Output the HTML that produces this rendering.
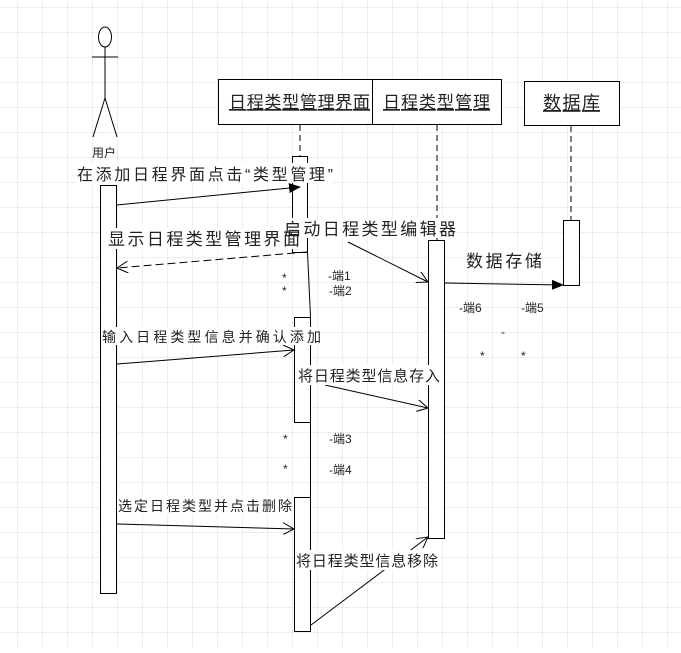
<!DOCTYPE html>
<html><head><meta charset="utf-8"><style>
body{margin:0;width:681px;height:648px;overflow:hidden;background:#fff}
text{font-family:"Liberation Sans","Noto Sans CJK SC",sans-serif;fill:#222}
</style></head><body>
<svg width="681" height="648" xmlns="http://www.w3.org/2000/svg">
<defs>
<pattern id="g" x="17" y="7" width="25" height="25" patternUnits="userSpaceOnUse">
<path d="M0 0H25M0 0V25" stroke="#dcdcdc" stroke-width="1" fill="none"/>
</pattern>
<marker id="fa" markerWidth="12" markerHeight="10" refX="11" refY="5" orient="auto" markerUnits="userSpaceOnUse"><path d="M0 0L12 5L0 10z" fill="#000"/></marker>
<marker id="oa" markerWidth="12" markerHeight="12" refX="11" refY="6" orient="auto" markerUnits="userSpaceOnUse"><path d="M0 0L11 6L0 12" fill="none" stroke="#000"/></marker>
</defs>
<rect width="681" height="648" fill="url(#g)"/>
<g stroke="#000" fill="none" stroke-width="1">
<ellipse cx="105" cy="37" rx="6.5" ry="10" fill="#fff"/>
<line x1="105" y1="47" x2="105" y2="98"/>
<line x1="92" y1="57" x2="118" y2="57"/>
<line x1="105" y1="98" x2="93" y2="137"/>
<line x1="105" y1="98" x2="117" y2="137"/>
<rect x="218.5" y="79.5" width="154" height="45" fill="#fff"/>
<rect x="372.5" y="79.5" width="129" height="45" fill="#fff"/>
<rect x="524.5" y="81.5" width="95" height="44" fill="#fff"/>
<line x1="300" y1="125" x2="300" y2="157" stroke-dasharray="6,4"/>
<line x1="437" y1="125" x2="437" y2="240" stroke-dasharray="6,4"/>
<line x1="571" y1="126" x2="571" y2="220" stroke-dasharray="6,4"/>
<rect x="100.5" y="185.5" width="16" height="408" fill="#fff"/>
<rect x="292.5" y="156.5" width="15" height="96" fill="#fff"/>
<line x1="307.5" y1="252" x2="310.5" y2="317"/>
<rect x="294.5" y="317.5" width="16" height="105" fill="#fff"/>
<line x1="310.5" y1="422" x2="310.5" y2="497"/>
<rect x="294.5" y="497.5" width="16" height="134" fill="#fff"/>
<rect x="428.5" y="240.5" width="16" height="298" fill="#fff"/>
<rect x="563.5" y="220.5" width="16" height="65" fill="#fff"/>
<line x1="117" y1="205" x2="300" y2="187" marker-end="url(#fa)"/>
<line x1="307" y1="252" x2="117" y2="268" stroke-dasharray="8,4" marker-end="url(#oa)"/>
<line x1="348" y1="242" x2="428" y2="282" marker-end="url(#oa)"/>
<line x1="445" y1="283" x2="563" y2="285" marker-end="url(#fa)"/>
<line x1="117" y1="364" x2="294" y2="350" marker-end="url(#oa)"/>
<line x1="325" y1="385" x2="428" y2="408" marker-end="url(#oa)"/>
<line x1="117" y1="524" x2="294" y2="529" marker-end="url(#oa)"/>
<line x1="311" y1="625" x2="428" y2="537" marker-end="url(#oa)"/>
</g>
<text x="229" y="108" font-size="17" textLength="141" lengthAdjust="spacing" text-decoration="underline">日程类型管理界面</text>
<text x="383" y="108" font-size="17" textLength="107" lengthAdjust="spacing" text-decoration="underline">日程类型管理</text>
<text x="543" y="109" font-size="18" textLength="57" lengthAdjust="spacing" text-decoration="underline">数据库</text>
<text x="92" y="157" font-size="12" textLength="24" lengthAdjust="spacing">用户</text>
<g fill="#fff">
<rect x="76" y="163" width="257" height="20"/>
<rect x="107" y="228" width="194" height="21"/>
<rect x="283" y="218" width="174" height="20"/>
<rect x="465" y="250" width="78" height="20"/>
<rect x="101" y="327" width="221" height="18"/>
<rect x="297" y="365" width="144" height="20"/>
<rect x="117" y="496" width="176" height="18"/>
<rect x="295" y="550" width="144" height="20"/>
</g>
<text x="77" y="180" font-size="16" textLength="256" lengthAdjust="spacing">在添加日程界面点击“类型管理”</text>
<text x="108" y="245" font-size="17" textLength="192" lengthAdjust="spacing">显示日程类型管理界面</text>
<text x="284" y="235" font-size="17" textLength="172" lengthAdjust="spacing">启动日程类型编辑器</text>
<text x="466" y="267" font-size="17" textLength="76" lengthAdjust="spacing">数据存储</text>
<text x="102" y="342" font-size="14" textLength="219" lengthAdjust="spacing">输入日程类型信息并确认添加</text>
<text x="298" y="381" font-size="15" textLength="142" lengthAdjust="spacing">将日程类型信息存入</text>
<text x="118" y="511" font-size="14" textLength="174" lengthAdjust="spacing">选定日程类型并点击删除</text>
<text x="296" y="566" font-size="15" textLength="142" lengthAdjust="spacing">将日程类型信息移除</text>
<g font-size="12">
<text x="282" y="282">*</text><text x="282" y="295">*</text>
<text x="328" y="280">-端1</text><text x="329" y="295">-端2</text>
<text x="459" y="312">-端6</text><text x="521" y="312">-端5</text>
<text x="501" y="336">-</text>
<text x="480" y="360">*</text><text x="521" y="360">*</text>
<text x="283" y="443">*</text><text x="329" y="443">-端3</text>
<text x="283" y="473">*</text><text x="329" y="474">-端4</text>
</g>
</svg>
</body></html>
